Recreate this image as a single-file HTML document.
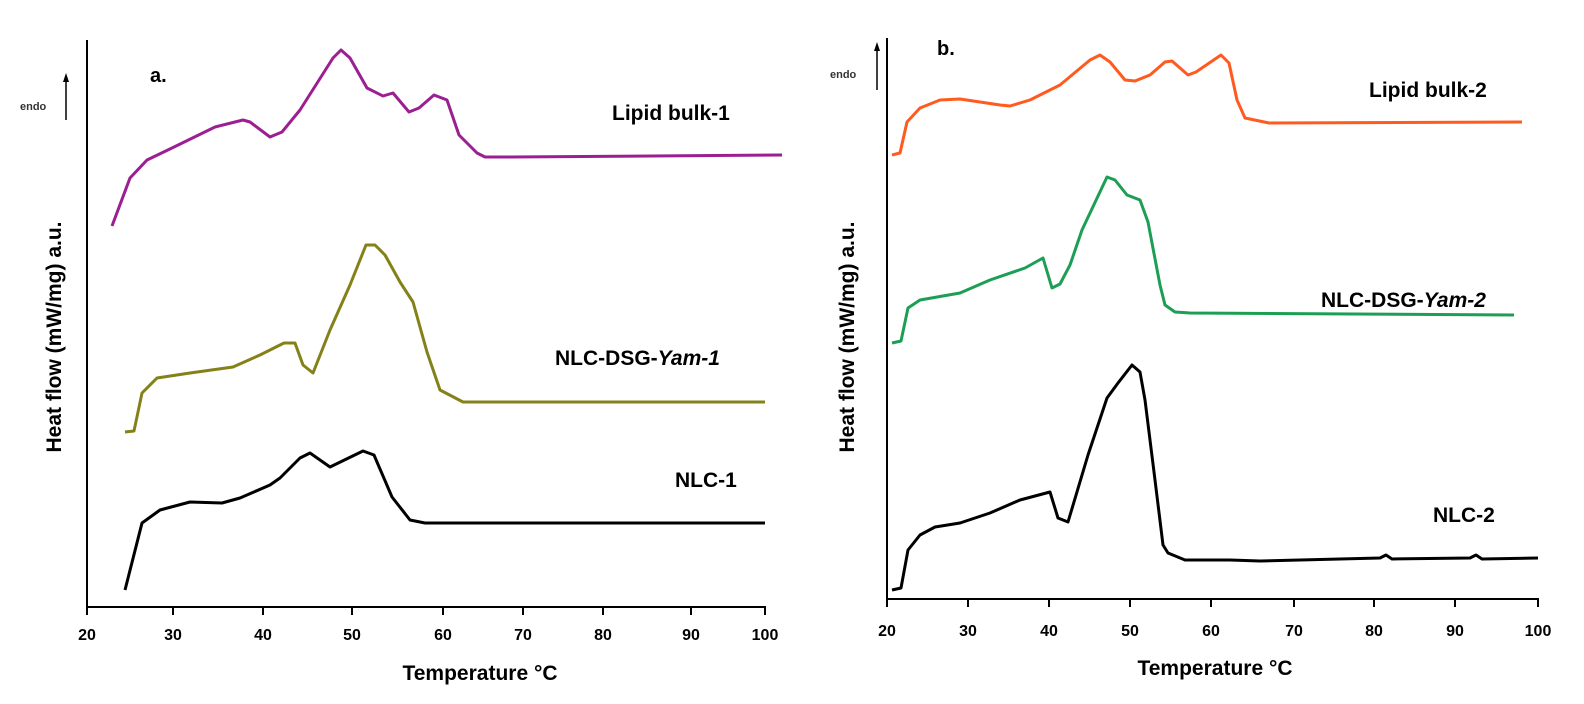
<!DOCTYPE html>
<html><head><meta charset="utf-8"><style>
html,body{margin:0;padding:0;background:#fff}
svg{display:block}
text{font-family:"Liberation Sans",sans-serif;font-weight:bold}
</style></head><body>
<svg width="1584" height="704" viewBox="0 0 1584 704" xmlns="http://www.w3.org/2000/svg">
<rect width="1584" height="704" fill="#fff"/>
<!-- Panel a -->
<g stroke="#000" stroke-width="2" fill="none">
<line x1="87" y1="40" x2="87" y2="608"/>
<line x1="86" y1="607" x2="766" y2="607"/>
<path d="M87 607v8M173 607v8M263 607v8M352 607v8M443 607v8M523 607v8M603 607v8M691 607v8M765 607v8"/>
<line x1="66" y1="120" x2="66" y2="80" stroke-width="1.5"/>
</g>
<polygon points="63,82 69,82 66,73" fill="#000"/>
<text x="20" y="110" font-size="11" fill="#333">endo</text>
<text x="150" y="82" font-size="20">a.</text>
<g font-size="16" fill="#000" text-anchor="middle">
<text x="87" y="640">20</text><text x="173" y="640">30</text><text x="263" y="640">40</text><text x="352" y="640">50</text><text x="443" y="640">60</text><text x="523" y="640">70</text><text x="603" y="640">80</text><text x="691" y="640">90</text><text x="765" y="640">100</text>
</g>
<text x="480" y="680" font-size="21" text-anchor="middle">Temperature °C</text>
<text transform="translate(61,337) rotate(-90)" font-size="21" text-anchor="middle">Heat flow (mW/mg) a.u.</text>
<polyline fill="none" stroke="#9b1f92" stroke-width="3" stroke-linejoin="round" points="112,226 130,178 147,160 172,148 215,127 243,120 250,122 270,137 282,132 300,110 333,58 341,50 350,58 367,88 383,96 393,93 409,112 419,108 434,95 447,100 459,135 477,153 485,157 511,157 782,155"/>
<polyline fill="none" stroke="#848118" stroke-width="3" stroke-linejoin="round" points="125,432 134,431 142,393 157,378 190,373 233,367 260,355 284,343 295,343 303,365 313,373 330,330 350,285 366,245 375,245 385,255 400,282 413,302 427,352 440,390 463,402 765,402"/>
<polyline fill="none" stroke="#000" stroke-width="3" stroke-linejoin="round" points="125,590 142,523 160,510 190,502 222,503 240,498 270,485 280,478 300,458 310,453 330,467 363,451 374,455 392,497 410,520 425,523 765,523"/>
<g font-size="21" fill="#000">
<text x="612" y="120">Lipid bulk-1</text>
<text x="555" y="365">NLC-DSG-<tspan font-style="italic">Yam-1</tspan></text>
<text x="675" y="487">NLC-1</text>
</g>
<!-- Panel b -->
<g stroke="#000" stroke-width="2" fill="none">
<line x1="887" y1="38" x2="887" y2="600"/>
<line x1="886" y1="599" x2="1539" y2="599"/>
<path d="M887 599v8M968 599v8M1049 599v8M1130 599v8M1211 599v8M1294 599v8M1374 599v8M1455 599v8M1538 599v8"/>
<line x1="877" y1="90" x2="877" y2="49" stroke-width="1.5"/>
</g>
<polygon points="874,51 880,51 877,42" fill="#000"/>
<text x="830" y="78" font-size="11" fill="#333">endo</text>
<text x="937" y="55" font-size="20">b.</text>
<g font-size="16" fill="#000" text-anchor="middle">
<text x="887" y="636">20</text><text x="968" y="636">30</text><text x="1049" y="636">40</text><text x="1130" y="636">50</text><text x="1211" y="636">60</text><text x="1294" y="636">70</text><text x="1374" y="636">80</text><text x="1455" y="636">90</text><text x="1538" y="636">100</text>
</g>
<text x="1215" y="675" font-size="21" text-anchor="middle">Temperature °C</text>
<text transform="translate(854,337) rotate(-90)" font-size="21" text-anchor="middle">Heat flow (mW/mg) a.u.</text>
<polyline fill="none" stroke="#ff5a1f" stroke-width="3" stroke-linejoin="round" points="892,155 900,153 907,122 920,108 940,100 960,99 1000,105 1010,106 1030,100 1060,85 1090,60 1100,55 1110,62 1125,80 1135,81 1150,75 1165,62 1172,61 1188,75 1196,72 1221,55 1229,63 1237,100 1245,118 1269,123 1522,122"/>
<polyline fill="none" stroke="#1d9e55" stroke-width="3" stroke-linejoin="round" points="892,343 901,341 908,308 920,300 960,293 990,280 1025,268 1043,258 1052,288 1060,284 1070,265 1082,230 1107,177 1115,180 1127,195 1140,200 1148,222 1160,285 1165,305 1175,312 1190,313 1514,315"/>
<polyline fill="none" stroke="#000" stroke-width="3" stroke-linejoin="round" points="892,590 901,588 908,550 920,535 935,527 960,523 990,513 1020,500 1050,492 1058,518 1068,522 1088,455 1107,398 1118,383 1132,365 1140,372 1145,400 1155,480 1163,545 1168,553 1185,560 1230,560 1260,561 1380,558 1386,555 1392,559 1470,558 1476,555 1482,559 1538,558"/>
<g font-size="21" fill="#000">
<text x="1369" y="97">Lipid bulk-2</text>
<text x="1321" y="307">NLC-DSG-<tspan font-style="italic">Yam-2</tspan></text>
<text x="1433" y="522">NLC-2</text>
</g>
</svg>
</body></html>
